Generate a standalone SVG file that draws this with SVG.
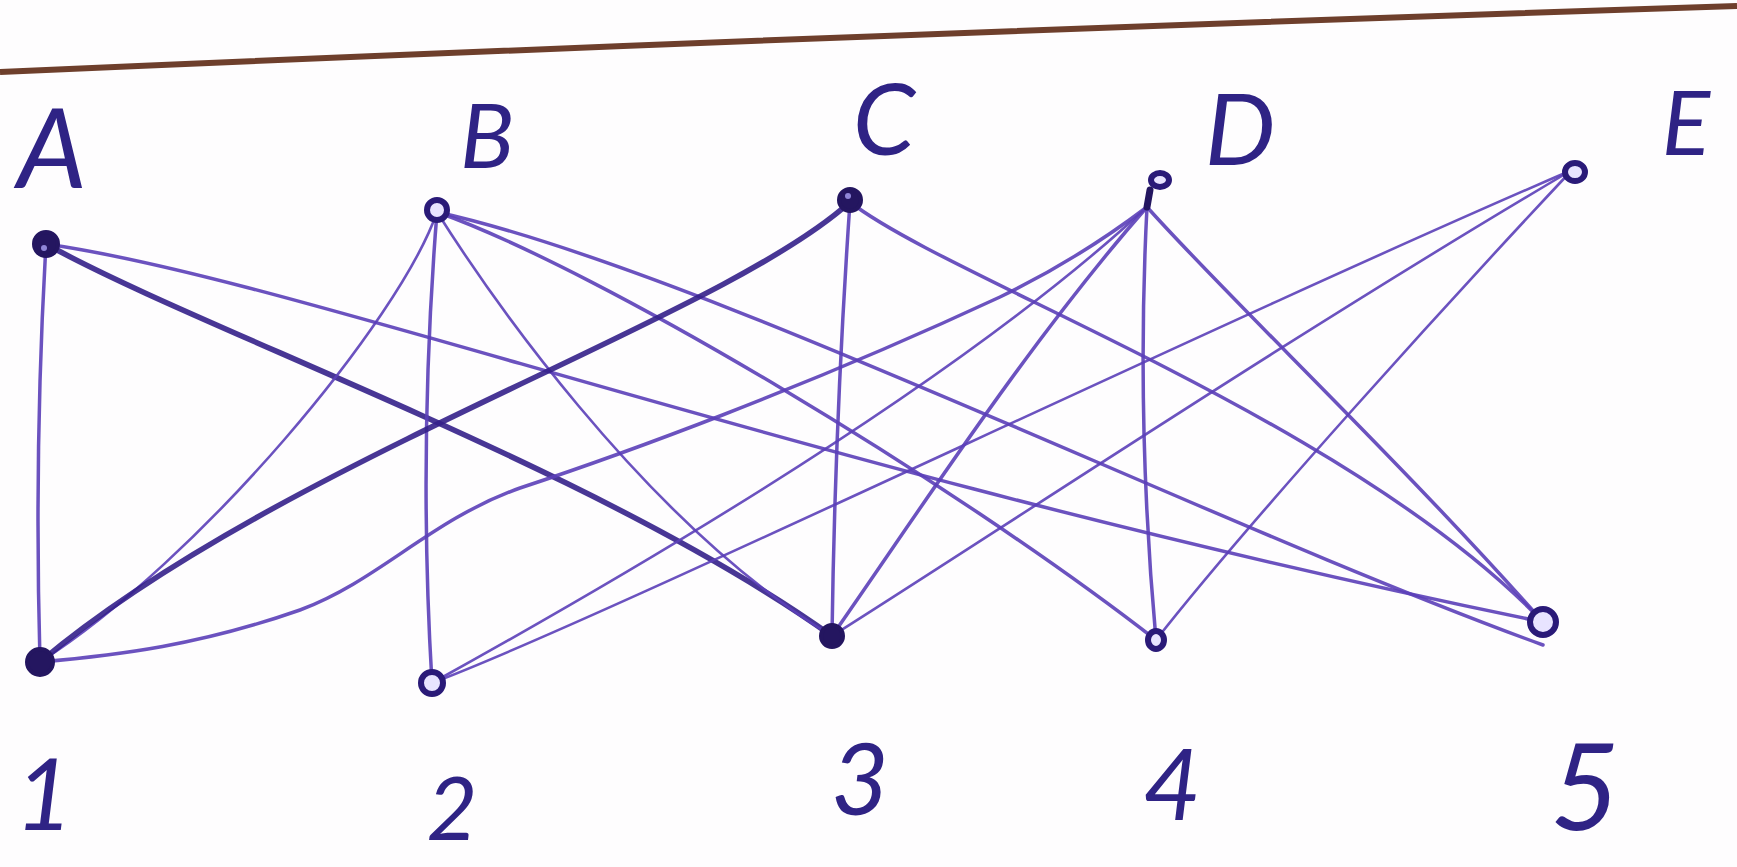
<svg xmlns="http://www.w3.org/2000/svg" width="1737" height="867" viewBox="0 0 1737 867">
<style>
.e{fill:none;stroke:#5b3fb8;stroke-width:3.5;stroke-linecap:round;opacity:0.9}
.t{stroke-width:5.5;stroke:#34208a}
.th{stroke-width:2.6}
.lbl{font-family:"Lato","Open Sans","Liberation Sans",sans-serif;font-weight:400;font-style:italic;fill:#2f2385;text-anchor:middle}
.dot{fill:#241660;stroke:#241660;stroke-width:4}
.ring{fill:#e8e4ff;stroke:#2a1a78;stroke-width:6}
</style>
<rect width="1737" height="867" fill="#fefdfe"/>
<path d="M0,72 Q870,34 1737,6" fill="none" stroke="#6e3f2c" stroke-width="6"/>
<g id="connectors">
<path class="e" d="M46,244 Q34,450 40,662"/>
<path class="e t" d="M46,244 C200,330 600,470 832,636"/>
<path class="e" d="M46,244 C300,280 800,470 1543,622"/>
<path class="e th" d="M437,212 C400,320 200,560 40,662"/>
<path class="e" d="M437,212 Q418,450 432,683"/>
<path class="e th" d="M437,212 C480,280 640,520 832,636"/>
<path class="e" d="M437,212 C600,270 950,480 1156,640"/>
<path class="e" d="M437,212 C700,270 1200,520 1543,645"/>
<path class="e t" d="M850,202 C720,320 280,460 40,662"/>
<path class="e" d="M850,202 Q835,420 832,636"/>
<path class="e" d="M850,202 C950,280 1350,420 1543,622"/>
<path class="e" d="M40,662 C120,655 200,645 300,610 C380,580 430,520 520,488 C620,455 800,390 1000,297 C1060,268 1110,235 1147,207"/>
<path class="e th" d="M432,683 C600,590 950,390 1147,207"/>
<path class="e" d="M832,636 C920,510 1030,340 1147,207"/>
<path class="e" d="M1147,207 Q1136,420 1156,640"/>
<path class="e" d="M1147,207 C1230,300 1400,460 1543,622"/>
<path class="e th" d="M432,683 C600,620 1200,330 1572,170"/>
<path class="e th" d="M832,636 C1000,530 1300,330 1572,170"/>
<path class="e th" d="M1156,640 C1250,520 1450,300 1572,170"/>
</g>
<g id="node-A"><circle class="dot" cx="46" cy="244" r="12"/><circle cx="44" cy="248" r="3" fill="#8f86d8"/><text class="lbl" x="52" y="188" font-size="110">A</text></g>
<g id="node-B"><circle class="ring" cx="437" cy="210" r="10"/><text class="lbl" x="487" y="168" font-size="90">B</text></g>
<g id="node-C"><circle class="dot" cx="850" cy="200" r="11"/><circle cx="848" cy="196" r="3" fill="#8f86d8"/><text class="lbl" x="884" y="155" font-size="100">C</text></g>
<g id="node-D"><path d="M1147,207 L1150,190" stroke="#241660" stroke-width="7" stroke-linecap="round"/><ellipse class="ring" cx="1160" cy="180" rx="9" ry="7"/><text class="lbl" x="1240" y="165" font-size="100">D</text></g>
<g id="node-E"><ellipse class="ring" cx="1575" cy="172" rx="10" ry="9"/><text class="lbl" x="1686" y="155" font-size="90">E</text></g>
<g id="node-1"><circle class="dot" cx="40" cy="662" r="13"/><text class="lbl" x="44" y="830" font-size="100">1</text></g>
<g id="node-2"><circle class="ring" cx="432" cy="683" r="11"/><text class="lbl" x="452" y="840" font-size="88">2</text></g>
<g id="node-3"><circle class="dot" cx="832" cy="636" r="11"/><text class="lbl" x="860" y="815" font-size="100">3</text></g>
<g id="node-4"><ellipse class="ring" cx="1156" cy="640" rx="8" ry="9"/><text class="lbl" x="1172" y="820" font-size="100">4</text></g>
<g id="node-5"><circle class="ring" cx="1543" cy="622" r="13"/><text class="lbl" x="1585" y="830" font-size="120">5</text></g>
</svg>
